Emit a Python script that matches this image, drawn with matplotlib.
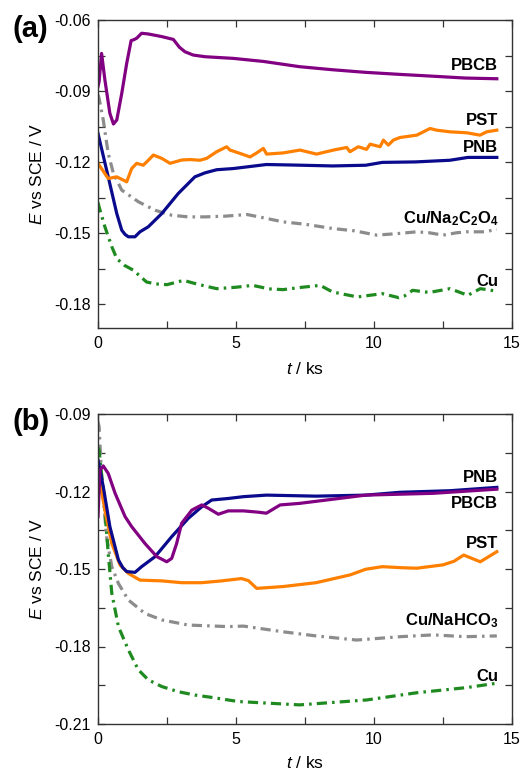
import matplotlib
matplotlib.use("Agg")
import matplotlib.pyplot as plt

plt.rcParams['font.family'] = ['Liberation Sans', 'DejaVu Sans']
plt.rcParams['mathtext.fontset'] = 'custom'
plt.rcParams['mathtext.rm'] = 'Liberation Sans'
plt.rcParams['mathtext.it'] = 'Liberation Sans:italic'
plt.rcParams['mathtext.bf'] = 'Liberation Sans:bold'

# ---------------- Panel (a) data ----------------
a_pbcb_t = [0, 0.04, 0.13, 0.25, 0.43, 0.56, 0.68, 0.86, 1.04, 1.2, 1.3, 1.4, 1.58, 1.82, 2.31, 2.73, 2.95, 3.15, 3.45, 3.88, 4.9, 6.0, 7.3, 8.5, 9.7, 11.0, 12.1, 13.3, 14.45]
a_pbcb_E = [-0.088, -0.086, -0.0741, -0.0853, -0.0994, -0.1039, -0.1022, -0.091, -0.0783, -0.0687, -0.0683, -0.0677, -0.0656, -0.0659, -0.067, -0.0682, -0.0715, -0.0734, -0.0748, -0.0755, -0.0762, -0.0775, -0.0797, -0.081, -0.0821, -0.083, -0.0837, -0.0845, -0.0848]

a_pst_t = [0, 0.37, 0.68, 1.04, 1.22, 1.4, 1.64, 1.824, 2.005, 2.31, 2.61, 3.03, 3.333, 3.696, 3.937, 4.3, 4.662, 4.783, 5.145, 5.507, 5.75, 5.99, 6.11, 6.71, 7.32, 7.92, 8.53, 9.01, 9.13, 9.43, 9.73, 9.86, 10.22, 10.34, 10.52, 10.7, 10.94, 11.55, 12.03, 12.27, 12.75, 13.36, 13.84, 14.08, 14.45]
a_pst_E = [-0.1205, -0.1269, -0.1262, -0.1283, -0.1227, -0.1205, -0.1213, -0.1192, -0.1170, -0.1184, -0.1205, -0.1191, -0.1189, -0.1192, -0.1184, -0.1156, -0.1135, -0.1149, -0.1163, -0.1178, -0.1161, -0.1142, -0.1166, -0.1161, -0.1149, -0.1166, -0.1149, -0.1138, -0.1156, -0.1135, -0.1146, -0.1124, -0.1135, -0.1107, -0.1128, -0.1107, -0.1096, -0.1086, -0.1058, -0.1065, -0.1072, -0.1076, -0.1086, -0.1072, -0.1065]

a_pnb_t = [0, 0.37, 0.68, 0.86, 0.98, 1.1, 1.34, 1.52, 1.82, 2.31, 2.91, 3.51, 3.88, 4.3, 4.9, 6.1, 7.0, 8.5, 9.7, 10.3, 11.5, 12.75, 13.4, 14.45]
a_pnb_E = [-0.1079, -0.1262, -0.1417, -0.1487, -0.1505, -0.1515, -0.1515, -0.1494, -0.1473, -0.1417, -0.1332, -0.1262, -0.1245, -0.1232, -0.1227, -0.1210, -0.1212, -0.1216, -0.1213, -0.1201, -0.1199, -0.1192, -0.1180, -0.1180]

a_ox_t = [0, 0.04, 0.19, 0.37, 0.56, 0.86, 1.46, 2.07, 2.67, 3.27, 3.88, 4.6, 5.4, 6.0, 6.7, 7.5, 8.5, 9.3, 10.1, 10.9, 11.55, 12.0, 12.5, 13.0, 13.35, 14.0, 14.45]
a_ox_E = [-0.0915, -0.0931, -0.1022, -0.1163, -0.1248, -0.1318, -0.1367, -0.1403, -0.1424, -0.1431, -0.1431, -0.1428, -0.1421, -0.1435, -0.1452, -0.1462, -0.148, -0.149, -0.1508, -0.1501, -0.1494, -0.1498, -0.1508, -0.1498, -0.1494, -0.1494, -0.1484]

a_cu_t = [0, 0.04, 0.25, 0.5, 0.68, 0.95, 1.28, 1.76, 2.1, 2.5, 3.1, 3.6, 4.3, 5.0, 5.6, 6.2, 6.7, 7.4, 8.05, 8.5, 9.4, 10.3, 10.9, 11.1, 11.4, 12.0, 12.75, 13.4, 13.85, 14.1, 14.45]
a_cu_E = [-0.137, -0.1389, -0.1473, -0.1557, -0.1607, -0.1635, -0.1656, -0.1706, -0.1714, -0.1717, -0.1699, -0.1715, -0.1734, -0.1728, -0.172, -0.1735, -0.1738, -0.1728, -0.172, -0.1748, -0.1769, -0.1755, -0.1772, -0.1765, -0.1741, -0.175, -0.1734, -0.1762, -0.1734, -0.1738, -0.1745]

# ---------------- Panel (b) data ----------------
b_pnb_t = [0, 0.19, 0.43, 0.74, 0.9, 1.04, 1.34, 1.58, 2.07, 2.67, 3.27, 3.76, 4.12, 4.72, 5.27, 6.1, 7.9, 9.7, 10.95, 12.75, 14.45]
b_pnb_E = [-0.1078, -0.1181, -0.1336, -0.1465, -0.1495, -0.151, -0.1513, -0.1491, -0.1452, -0.1375, -0.1304, -0.1259, -0.1233, -0.1227, -0.122, -0.1214, -0.1218, -0.1214, -0.1203, -0.1197, -0.1184]

b_pbcb_t = [0, 0.07, 0.19, 0.37, 0.62, 0.98, 1.22, 1.7, 2.13, 2.49, 2.67, 2.85, 3.03, 3.4, 3.76, 4.0, 4.36, 4.72, 5.27, 5.8, 6.1, 6.6, 7.3, 8.5, 9.7, 12.15, 14.45]
b_pbcb_E = [-0.1297, -0.1117, -0.1101, -0.113, -0.1207, -0.1297, -0.1336, -0.1401, -0.1452, -0.1472, -0.1459, -0.1401, -0.1323, -0.1272, -0.1252, -0.1265, -0.1288, -0.1275, -0.1275, -0.128, -0.1284, -0.1252, -0.1246, -0.1230, -0.1214, -0.1207, -0.1191]

b_pst_t = [0, 0.25, 0.5, 0.8, 1.1, 1.52, 2.31, 3.03, 3.76, 4.48, 5.2, 5.45, 5.75, 6.7, 7.9, 9.13, 9.7, 10.3, 11.0, 11.55, 12.5, 12.9, 13.25, 13.85, 14.45]
b_pst_E = [-0.1117, -0.1272, -0.1401, -0.1485, -0.1517, -0.1543, -0.1546, -0.1553, -0.1553, -0.1546, -0.1537, -0.1545, -0.1575, -0.1568, -0.1553, -0.1523, -0.1501, -0.1491, -0.1495, -0.1497, -0.1484, -0.147, -0.1446, -0.1472, -0.1433]

b_bic_t = [0, 0.04, 0.13, 0.31, 0.5, 0.74, 1.1, 1.7, 2.31, 3.27, 4.72, 5.27, 6.7, 7.9, 9.37, 10.95, 12.15, 13.3, 14.45]
b_bic_E = [-0.093, -0.0949, -0.1143, -0.1375, -0.1491, -0.1556, -0.162, -0.1672, -0.1697, -0.1717, -0.1723, -0.1721, -0.1743, -0.1759, -0.1775, -0.1762, -0.1755, -0.1762, -0.1759]

b_cu_t = [0, 0.04, 0.19, 0.37, 0.5, 0.74, 1.1, 1.46, 1.82, 2.31, 2.91, 3.51, 4.12, 5.08, 7.3, 9.73, 11.55, 13.36, 14.45]
b_cu_E = [-0.103, -0.104, -0.1194, -0.1439, -0.1594, -0.1723, -0.1813, -0.189, -0.1929, -0.1955, -0.1975, -0.1988, -0.1997, -0.2013, -0.2026, -0.2007, -0.1979, -0.1959, -0.1942]

x_ticks = [0, 5, 10, 15]
a_yticks = [-0.18, -0.15, -0.12, -0.09, -0.06]
b_yticks = [-0.21, -0.18, -0.15, -0.12, -0.09]

a_labels = [("PBCB", -0.079), ("PST", -0.1023), ("PNB", -0.114),
            (r"Cu/Na$_\mathbf{2}$C$_\mathbf{2}$O$_\mathbf{4}$", -0.1437), ("Cu", -0.1703)]
b_labels = [("PNB", -0.1144), ("PBCB", -0.1248), ("PST", -0.1403),
            (r"Cu/NaHCO$_\mathbf{3}$", -0.1701), ("Cu", -0.1918)]

PURPLE = '#820082'
ORANGE = '#ff8000'
NAVY = '#0a0a8c'
GRAY = '#8c8c8c'
GREEN = '#1f8a1f'
LW = 2.3
DASHDOT = (0, (3.2, 1.6, 0.8, 1.6))

fig = plt.figure(figsize=(5.21, 7.74), dpi=100)
W, H = 521, 774
axa = fig.add_axes([98 / W, 1 - 328 / H, 414 / W, 308 / H])
axb = fig.add_axes([98 / W, 1 - 724 / H, 414 / W, 310 / H])


def style(ax, ylim, yticks, xlab_y):
    ax.set_xlim(0, 15)
    ax.set_ylim(*ylim)
    ax.set_xticks(x_ticks)
    ax.set_xticks([2.5, 7.5, 12.5], minor=True)
    ax.set_yticks(yticks)
    ax.set_yticks([y + 0.015 for y in yticks[:-1]], minor=True)
    ax.set_xticklabels([str(v) for v in x_ticks])
    ax.set_yticklabels(["%.2f" % v for v in yticks])
    ax.tick_params(which='both', direction='in', length=5, width=0.9,
                   top=True, right=True, labelsize=11.5, color='#333333')
    ax.tick_params(axis='x', pad=6)
    ax.tick_params(axis='y', pad=5)
    for s in ax.spines.values():
        s.set_linewidth(1.0)
        s.set_color('#333333')
    ax.set_ylabel(r"$E$ vs SCE / V", fontsize=12.5)
    ax.set_xlabel(r"$t$ / ks", fontsize=12.5)
    ax.yaxis.set_label_coords(-0.128, 0.5)
    ax.xaxis.set_label_coords(0.5, xlab_y)


style(axa, (-0.19, -0.06), a_yticks, -0.108)
style(axb, (-0.21, -0.09), b_yticks, -0.1)

axa.plot(a_ox_t, a_ox_E, color=GRAY, lw=LW, ls=DASHDOT)
axa.plot(a_cu_t, a_cu_E, color=GREEN, lw=LW, ls=DASHDOT)
axa.plot(a_pnb_t, a_pnb_E, color=NAVY, lw=LW)
axa.plot(a_pst_t, a_pst_E, color=ORANGE, lw=LW)
axa.plot(a_pbcb_t, a_pbcb_E, color=PURPLE, lw=LW)

axb.plot(b_bic_t, b_bic_E, color=GRAY, lw=LW, ls=DASHDOT)
axb.plot(b_cu_t, b_cu_E, color=GREEN, lw=LW, ls=DASHDOT)
axb.plot(b_pst_t, b_pst_E, color=ORANGE, lw=LW)
axb.plot(b_pnb_t, b_pnb_E, color=NAVY, lw=LW)
axb.plot(b_pbcb_t, b_pbcb_E, color=PURPLE, lw=LW)

for txt, y in a_labels:
    axa.text(14.5, y, txt, ha='right', va='center', fontsize=12, fontweight='bold')
for txt, y in b_labels:
    axb.text(14.5, y, txt, ha='right', va='center', fontsize=12, fontweight='bold')

fig.text(12 / W, 1 - 29 / H, "(a)", fontsize=21, fontweight='bold', ha='left', va='center')
fig.text(12 / W, 1 - 422 / H, "(b)", fontsize=21, fontweight='bold', ha='left', va='center')

fig.savefig("out.png", dpi=100)
